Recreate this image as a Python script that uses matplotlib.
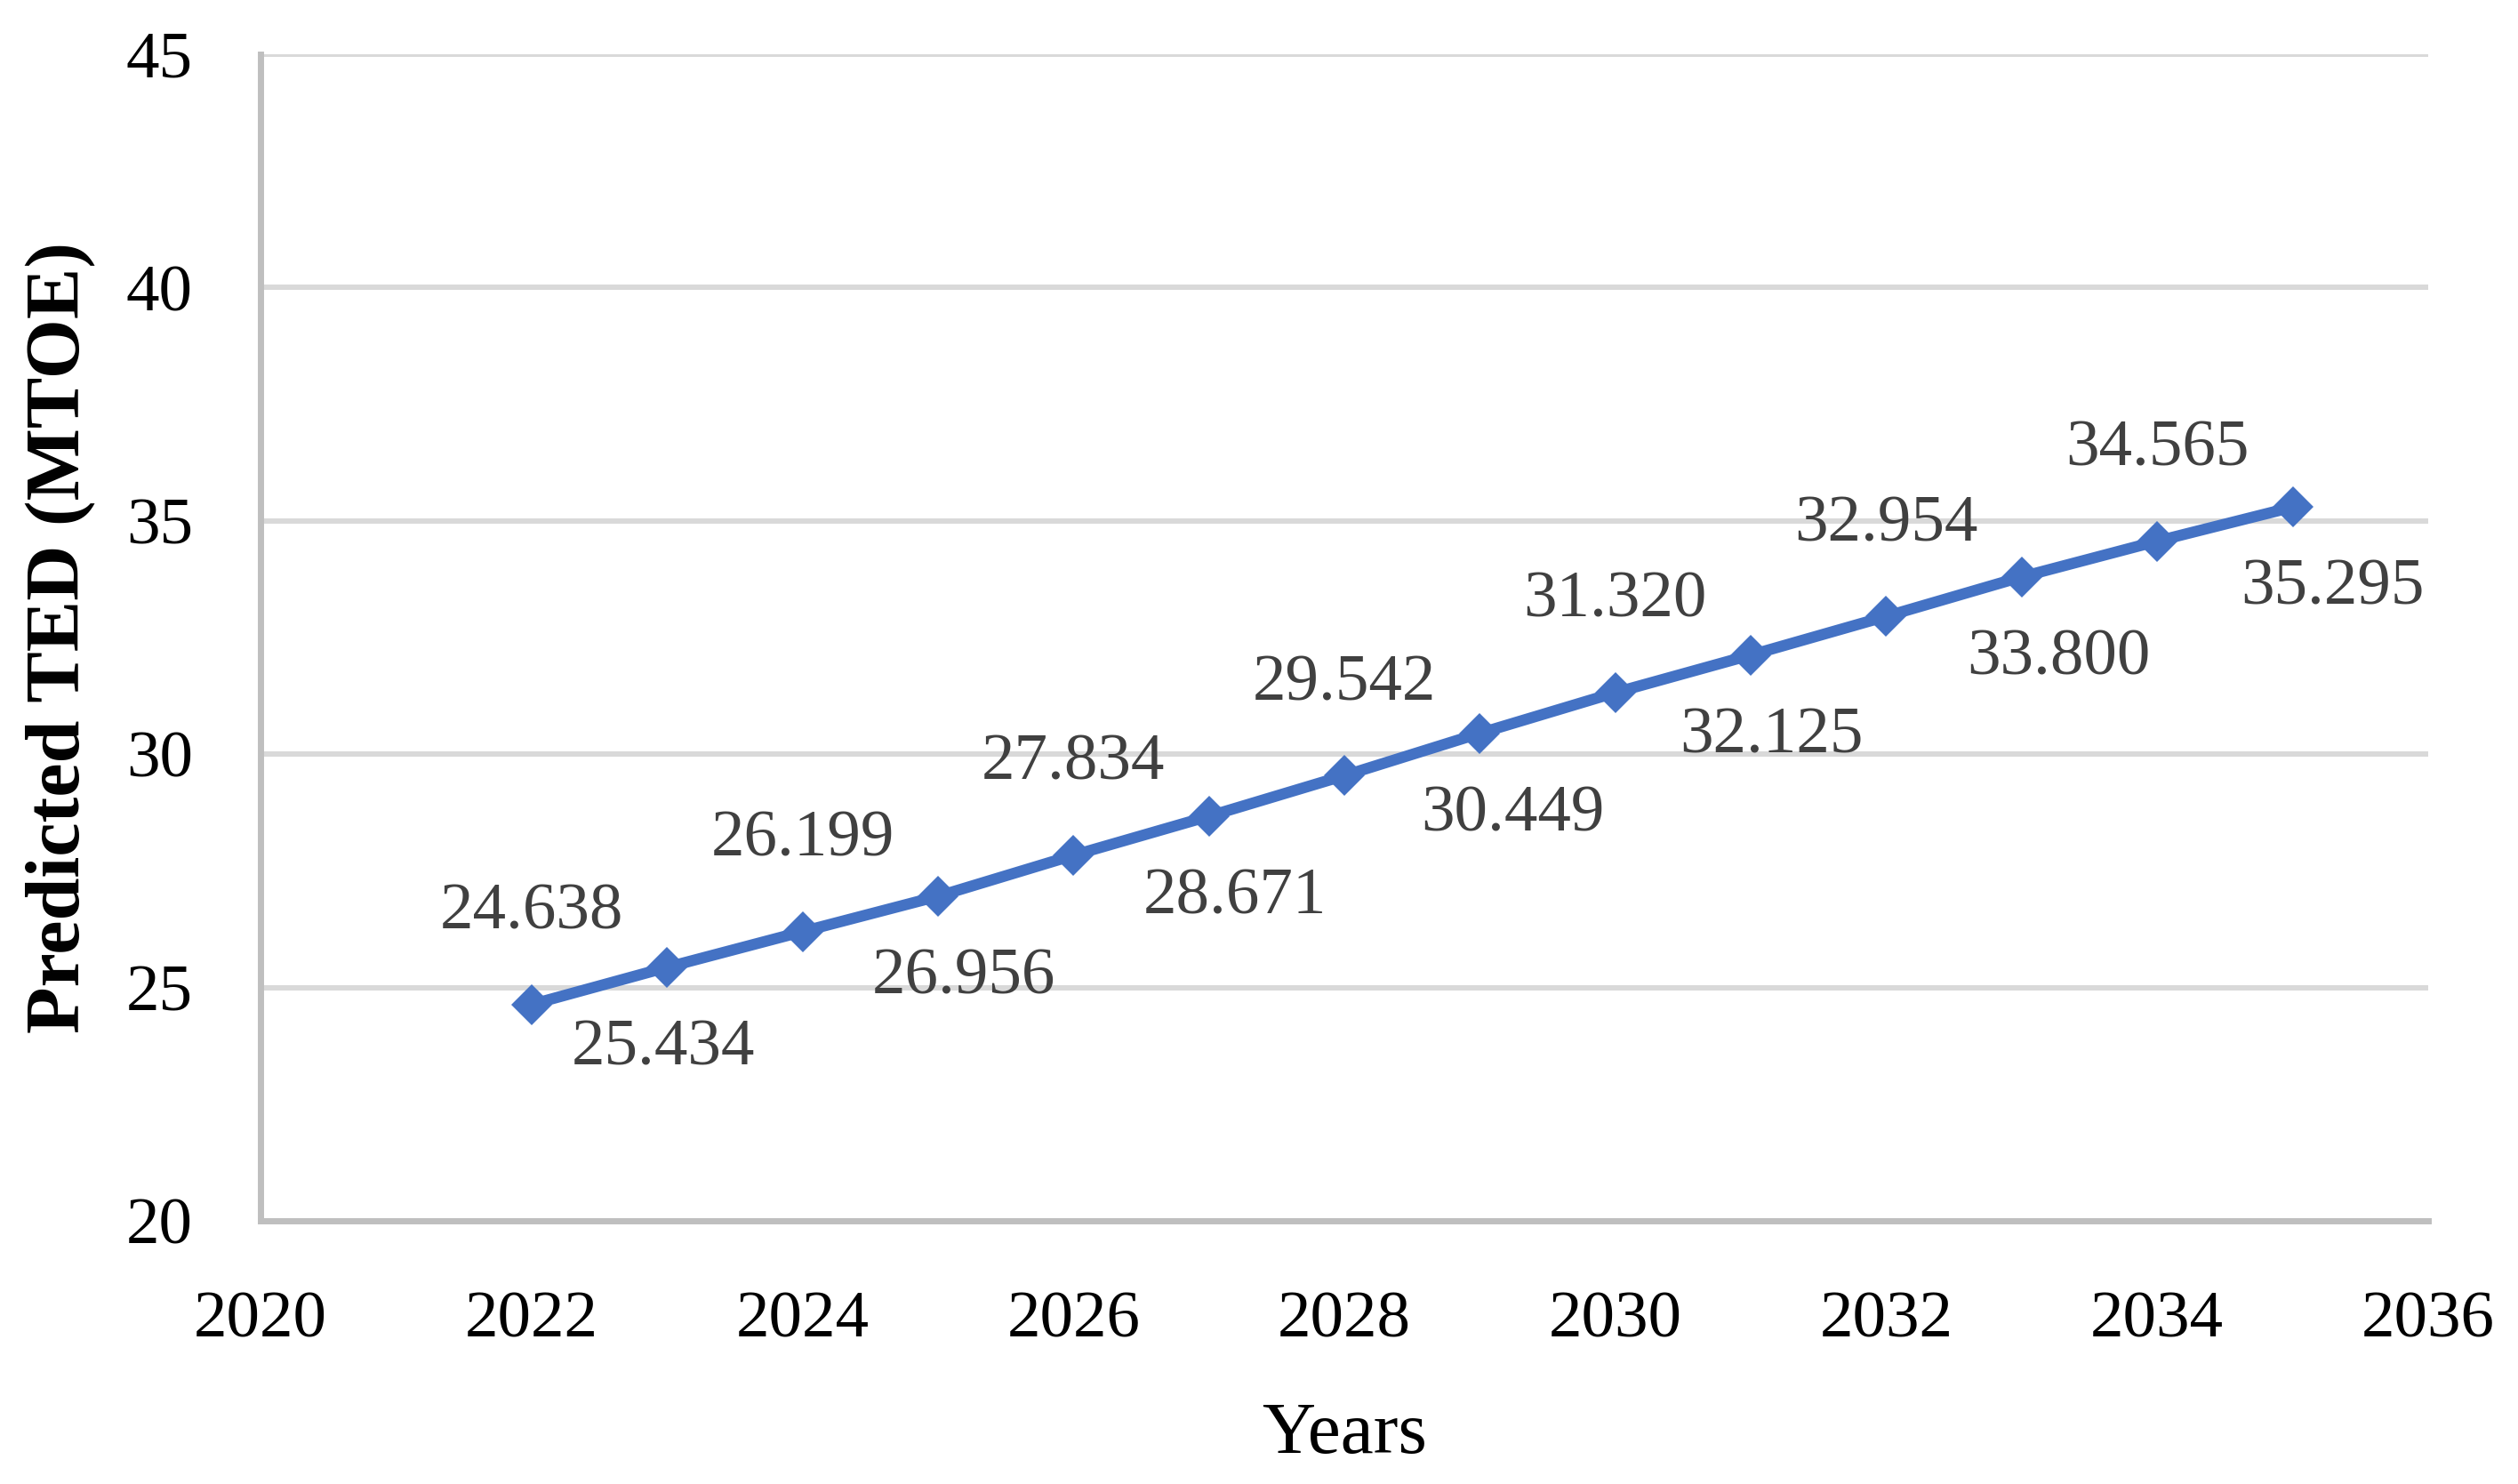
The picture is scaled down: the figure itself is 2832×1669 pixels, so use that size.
import matplotlib.pyplot as plt

# data
years = [2022, 2023, 2024, 2025, 2026, 2027, 2028, 2029, 2030, 2031, 2032, 2033, 2034, 2035]
ted = [24.638, 25.434, 26.199, 26.956, 27.834, 28.671, 29.542, 30.449,
       31.320, 32.125, 32.954, 33.800, 34.565, 35.295]
x_ticks = [2020, 2022, 2024, 2026, 2028, 2030, 2032, 2034, 2036]
y_ticks = [20, 25, 30, 35, 40, 45]

# horizontal nudge of each data label (points), as Excel placed them
label_dx = [0, -3, 0, 21, 0, 21, 0, 27, 0, 17, 0, 30, 0, 32]

plt.rcParams['font.family'] = ['Liberation Serif', 'DejaVu Serif']

fig = plt.figure(figsize=(28.32, 16.69), dpi=100)
ax = fig.add_axes([0.1035, 0.1773, 0.8608, 0.7862])

ax.plot(years, ted, color='#4472C4', linewidth=9, marker='D', markersize=23,
        markeredgewidth=0, zorder=3)

# data labels alternate above / below the points
for i, (x, y) in enumerate(zip(years, ted)):
    dy = 74 if i % 2 == 0 else -66
    ax.annotate('%.3f' % y, (x, y), xytext=(label_dx[i], dy), textcoords='offset points',
                ha='center', va='center', fontsize=54, color='#404040')

ax.set_xlim(2020, 2036)
ax.set_ylim(20, 45)
ax.set_xticks(x_ticks)
ax.set_yticks(y_ticks)
ax.tick_params(axis='both', length=0, labelsize=54, colors='black')
ax.tick_params(axis='x', pad=57)
ax.tick_params(axis='y', pad=55)

ax.yaxis.grid(True, color='#D9D9D9', linewidth=4.3)
ax.set_axisbelow(True)
for side in ['top', 'right']:
    ax.spines[side].set_visible(False)
for side in ['left', 'bottom']:
    ax.spines[side].set_color('#BFBFBF')
    ax.spines[side].set_linewidth(5)
    ax.spines[side].set_zorder(2)

ax.set_xlabel('Years', fontsize=60)
ax.xaxis.set_label_coords(0.5, -0.155)
ax.set_ylabel('Predicted TED (MTOE)', fontsize=62, fontweight='bold')
ax.yaxis.set_label_coords(-0.076, 0.5)

fig.savefig('out.png', dpi=100, facecolor='white')
